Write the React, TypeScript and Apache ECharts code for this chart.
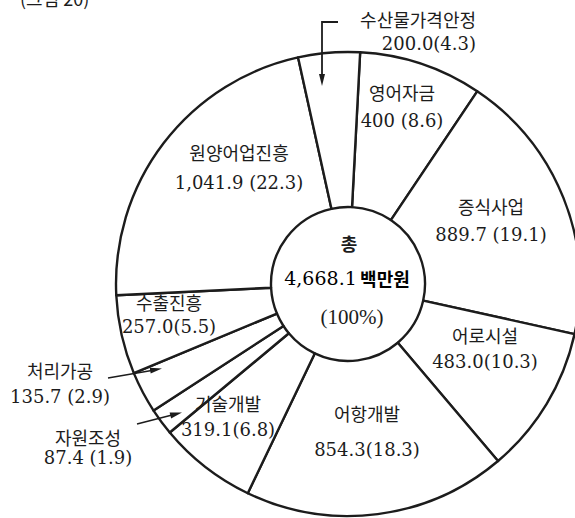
import React, { useEffect, useRef } from "react";
import * as echarts from "echarts";

const categories = ["영어자금", "증식사업", "어로시설", "어항개발", "기술개발", "자원조성", "처리가공", "수출진흥", "원양어업진흥", "수산물가격안정"];
const values = [400, 889.7, 483.0, 854.3, 319.1, 87.4, 135.7, 257.0, 1041.9, 200.0];
const valueLabels = ["400", "889.7", "483.0", "854.3", "319.1", "87.4", "135.7", "257.0", "1,041.9", "200.0"];
const shares = ["8.6", "19.1", "10.3", "18.3", "6.8", "1.9", "2.9", "5.5", "22.3", "4.3"];
const figureCaption = "(그림 20)";
const unitText = "백만원";

// label layout (positions / line gaps / separators), kept apart from the data
const labelPos: [number, number][] = [
  [402, 106], [491, 220], [485, 348], [367, 431], [228, 416],
  [88, 447], [60, 383], [169, 314], [239, 167], [476, 31],
];
const labelAlign = ["center", "center", "center", "center", "center", "center", "center", "center", "center", "right"];
const labelGap = [29, 29, 26, 36, 26, 21, 27, 24, 30, 24];
const labelSep = [" ", " ", "", "", "", " ", " ", "", " ", ""];

const SERIF = "'DejaVu Serif', 'Liberation Serif', serif";
const SERIF2 = "'Liberation Serif', serif";
const KR = "'Noto Sans CJK KR', 'Noto Sans', sans-serif";
const INK = "#1c1c1c";

export default function App() {
  const ref = useRef<HTMLDivElement>(null);
  useEffect(() => {
    if (!ref.current) return;
    const chart = echarts.init(ref.current, null, { renderer: "svg" });
    const total = values.reduce((a, b) => a + b, 0);
    const totalText = total.toLocaleString("en-US", { minimumFractionDigits: 1, maximumFractionDigits: 1 });

    const data = categories.map((name, i) => ({
      name,
      value: values[i],
      label: {
        align: labelAlign[i],
        rich: {
          n: { fontFamily: KR, fontSize: 18, color: INK, lineHeight: labelGap[i], align: labelAlign[i] },
          v: { fontFamily: SERIF, fontSize: 18, color: INK, lineHeight: labelGap[i], align: labelAlign[i] },
        },
      },
    }));

    const arrow = (tip: [number, number], from: [number, number]) => {
      const dx = tip[0] - from[0];
      const dy = tip[1] - from[1];
      const L = Math.hypot(dx, dy);
      const ux = dx / L, uy = dy / L;
      const bx = tip[0] - 12 * ux, by = tip[1] - 12 * uy;
      const px = -uy * 3, py = ux * 3;
      return {
        type: "polygon",
        z: 10,
        shape: { points: [tip, [bx + px, by + py], [bx - px, by - py]] },
        style: { fill: INK },
        silent: true,
      };
    };

    chart.setOption({
      animation: false,
      backgroundColor: "#ffffff",
      series: [
        {
          type: "pie",
          center: [348, 284],
          radius: [77, 232],
          startAngle: 87,
          clockwise: true,
          avoidLabelOverlap: false,
          silent: true,
          itemStyle: { color: "#ffffff", borderColor: INK, borderWidth: 2.4 },
          emphasis: { disabled: true },
          labelLine: { show: false },
          label: {
            show: true,
            position: "inside",
            formatter: (p: any) =>
              `{n|${p.name}}\n{v|${valueLabels[p.dataIndex]}${labelSep[p.dataIndex]}(${shares[p.dataIndex]})}`,
          },
          labelLayout: (p: any) => ({
            x: labelPos[p.dataIndex][0],
            y: labelPos[p.dataIndex][1],
            align: labelAlign[p.dataIndex],
            verticalAlign: "middle",
          }),
          data,
        },
      ],
      graphic: [
        {
          type: "text",
          z: 10,
          left: 20,
          top: -11,
          style: { text: figureCaption, fontFamily: KR, fontSize: 18, fill: INK },
          silent: true,
        },
        {
          type: "text",
          z: 10,
          x: 349,
          y: 243,
          style: { text: "총", fontFamily: KR, fontSize: 18, fontWeight: "bold", fill: INK, align: "center", verticalAlign: "middle" },
          silent: true,
        },
        {
          type: "text",
          z: 10,
          x: 347,
          y: 278,
          style: {
            text: `{d|${totalText}} {u|${unitText}}`,
            align: "center",
            verticalAlign: "middle",
            rich: {
              d: { fontFamily: SERIF, fontSize: 19, color: INK },
              u: { fontFamily: KR, fontSize: 18, fontWeight: "bold", color: INK },
            },
          },
          silent: true,
        },
        {
          type: "text",
          z: 10,
          x: 352,
          y: 317,
          style: { text: "(100%)", fontFamily: SERIF2, fontSize: 21, fill: INK, align: "center", verticalAlign: "middle" },
          silent: true,
        },
        {
          type: "polyline",
          z: 10,
          shape: { points: [[338, 22], [322, 22], [322, 76]] },
          style: { stroke: INK, lineWidth: 1.8, fill: "none" },
          silent: true,
        },
        arrow([322, 86], [322, 70]),
        {
          type: "line",
          z: 10,
          shape: { x1: 108, y1: 378, x2: 156, y2: 369.7 },
          style: { stroke: INK, lineWidth: 1.5 },
          silent: true,
        },
        arrow([162, 368.6], [108, 378]),
        {
          type: "line",
          z: 10,
          shape: { x1: 137, y1: 424, x2: 176, y2: 414 },
          style: { stroke: INK, lineWidth: 1.5 },
          silent: true,
        },
        arrow([182, 412.5], [137, 424]),
      ],
    });
    return () => chart.dispose();
  }, []);
  return (
    <div
      ref={ref}
      style={{ position: "fixed", left: 0, top: 0, width: 575, height: 518, background: "#fff" }}
    />
  );
}
